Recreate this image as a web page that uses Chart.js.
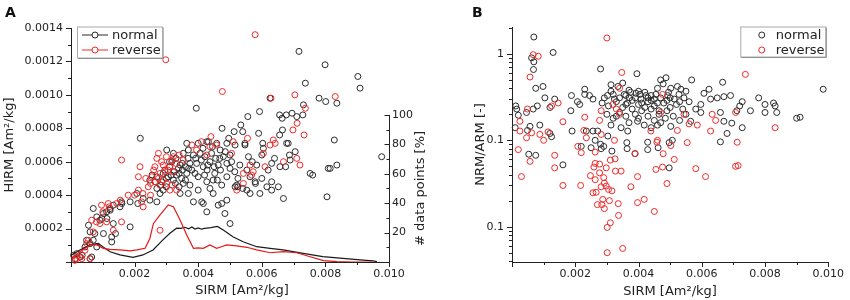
<!DOCTYPE html>
<html><head><meta charset="utf-8">
<script src="https://cdn.jsdelivr.net/npm/chart.js@4.4.0/dist/chart.umd.min.js"></script>
<style>
html,body{margin:0;padding:0;background:#fff;}
#wrap{position:relative;width:850px;height:300px;overflow:hidden;background:#fff;}
canvas{position:absolute;top:0;}
#ca{left:0;} #cb{left:440px;}
.lbl{position:absolute;font:bold 14px "DejaVu Sans";color:#111;line-height:16px;}
</style></head><body>
<div id="wrap">
<canvas id="ca" width="440" height="300"></canvas>
<canvas id="cb" width="410" height="300"></canvas>
<div class="lbl" style="left:5px;top:4px">A</div>
<div class="lbl" style="left:472px;top:4px">B</div>
</div>
<script>
// ---------- Panel A: HIRM vs SIRM ----------
const hirmNormal = [[0.00717,0.00126],[0.00799,0.00118],[0.00902,0.00111],[0.00909,0.00104],[0.00737,0.00107],[0.00626,0.00098],[0.00780,0.00098],[0.00801,0.00096],[0.00836,0.00095],[0.00731,0.00094],[0.00394,0.00092],[0.00593,0.00090],[0.00556,0.00087],[0.00656,0.00088],[0.00677,0.00088],[0.00695,0.00089],[0.00710,0.00087],[0.00729,0.00088],[0.00664,0.00086],[0.00534,0.00082],[0.00513,0.00078],[0.00540,0.00078],[0.00475,0.00080],[0.00656,0.00076],[0.00665,0.00079],[0.00218,0.00074],[0.00828,0.00073],[0.00496,0.00074],[0.00364,0.00071],[0.00400,0.00071],[0.00427,0.00072],[0.00458,0.00071],[0.00490,0.00071],[0.00547,0.00071],[0.00603,0.00071],[0.00678,0.00071],[0.00590,0.00077],
[0.00432,0.00072],[0.00516,0.00070],[0.00547,0.00070],[0.00605,0.00068],[0.00683,0.00071],
[0.00322,0.00065],[0.00301,0.00067],[0.00353,0.00065],[0.00385,0.00064],[0.00406,0.00065],[0.00421,0.00063],[0.00442,0.00065],[0.00469,0.00067],[0.00479,0.00063],[0.00500,0.00064],[0.00558,0.00063],[0.00600,0.00064],[0.00687,0.00064],[0.00977,0.00063],[0.00369,0.00067],[0.00455,0.00062],
[0.00317,0.00060],[0.00343,0.00058],[0.00374,0.00059],[0.00395,0.00059],[0.00416,0.00057],[0.00437,0.00060],[0.00463,0.00058],[0.00490,0.00059],[0.00531,0.00058],[0.00553,0.00055],[0.00584,0.00058],[0.00631,0.00059],[0.00657,0.00057],[0.00689,0.00061],[0.00620,0.00055],[0.00815,0.00056],[0.00836,0.00058],[0.00752,0.00053],[0.00675,0.00057],
[0.00248,0.00049],[0.00270,0.00051],[0.00285,0.00048],[0.00306,0.00051],[0.00322,0.00049],[0.00332,0.00052],[0.00348,0.00050],[0.00353,0.00047],[0.00364,0.00053],[0.00374,0.00046],[0.00400,0.00051],[0.00427,0.00048],[0.00447,0.00049],[0.00474,0.00046],[0.00490,0.00051],[0.00521,0.00046],[0.00525,0.00050],[0.00563,0.00051],[0.00579,0.00048],[0.00600,0.00050],[0.00631,0.00048],[0.00652,0.00045],[0.00525,0.00045],[0.00540,0.00044],[0.00437,0.00044],
[0.00295,0.00055],[0.00310,0.00057],[0.00325,0.00054],[0.00338,0.00056],[0.00350,0.00055],[0.00360,0.00057],[0.00315,0.00052],[0.00300,0.00050],[0.00290,0.00053],[0.00340,0.00053],[0.00328,0.00047],[0.00282,0.00046],[0.00265,0.00048],[0.00255,0.00052],[0.00380,0.00055],[0.00392,0.00062],[0.00410,0.00061],[0.00428,0.00055],[0.00452,0.00053],[0.00468,0.00062],[0.00485,0.00066],[0.00505,0.00060],[0.00515,0.00054],[0.00570,0.00060],[0.00640,0.00062],[0.00705,0.00066],[0.00368,0.00062],[0.00445,0.00069],[0.00415,0.00068],
[0.00310,0.00060],[0.00330,0.00062],[0.00350,0.00059],[0.00370,0.00056],[0.00390,0.00053],[0.00430,0.00058],[0.00450,0.00057],[0.00470,0.00055],[0.00500,0.00056],[0.00340,0.00045],[0.00360,0.00049],[0.00420,0.00052],[0.00460,0.00049],[0.00270,0.00044],[0.00300,0.00045],
[0.00207,0.00041],[0.00227,0.00038],[0.00248,0.00037],[0.00280,0.00041],[0.00270,0.00036],[0.00290,0.00043],[0.00343,0.00041],[0.00369,0.00041],[0.00385,0.00036],[0.00411,0.00036],[0.00400,0.00043],[0.00416,0.00035],[0.00447,0.00041],[0.00463,0.00034],[0.00474,0.00035],[0.00490,0.00037],[0.00427,0.00030],[0.00484,0.00029],[0.00500,0.00023],[0.00563,0.00041],[0.00594,0.00041],[0.00631,0.00043],[0.00668,0.00038],[0.00805,0.00039],[0.00186,0.00036],[0.00159,0.00036],[0.00154,0.00033],[0.00133,0.00034],[0.00123,0.00031],[0.00102,0.00029],[0.00081,0.00027],[0.00070,0.00032],[0.00091,0.00025],[0.00186,0.00021],[0.00133,0.00023],[0.00128,0.00015],[0.00055,0.00022],[0.00060,0.00018],[0.00075,0.00017],[0.00102,0.00017],[0.00049,0.00013],[0.00070,0.00013],[0.00060,0.00011],[0.00044,0.00009],[0.00081,0.00009],[0.00018,0.00005],[0.00008,0.00004],[0.00028,0.00003],[0.00065,0.00003],[0.00013,0.00002],[0.00760,0.00052],[0.00809,0.00056],
[0.00097,0.00026],[0.00112,0.00030],[0.00123,0.00032],[0.00113,0.00026],[0.00140,0.00017],[0.00160,0.00035],[0.00210,0.00035],[0.00128,0.00012],[0.00060,0.00002],[0.00035,0.00004],[0.00580,0.00047],[0.00553,0.00043],[0.00516,0.00045],[0.00616,0.00045]];

const hirmReverse = [[0.00579,0.00136],[0.00298,0.00121],[0.00476,0.00102],[0.00629,0.00098],[0.00704,0.00100],[0.00831,0.00099],[0.00737,0.00092],[0.00711,0.00083],[0.00698,0.00079],[0.00733,0.00076],[0.00440,0.00075],[0.00555,0.00074],[0.00636,0.00073],[0.00510,0.00072],
[0.00458,0.00070],[0.00626,0.00070],[0.00642,0.00071],[0.00605,0.00065],[0.00437,0.00069],[0.00275,0.00065],[0.00159,0.00061],[0.00353,0.00061],[0.00427,0.00064],[0.00505,0.00065],[0.00668,0.00060],[0.00710,0.00062],[0.00720,0.00058],[0.00217,0.00057],[0.00264,0.00057],[0.00290,0.00058],[0.00311,0.00057],[0.00296,0.00054],[0.00280,0.00053],[0.00322,0.00054],[0.00563,0.00058],[0.00573,0.00054],[0.00542,0.00053],[0.00610,0.00057],[0.00212,0.00051],[0.00243,0.00045],[0.00264,0.00048],[0.00280,0.00046],[0.00254,0.00051],[0.00301,0.00047],[0.00311,0.00043],[0.00332,0.00043],[0.00212,0.00043],[0.00521,0.00043],[0.00542,0.00047],[0.00144,0.00035],[0.00117,0.00035],[0.00096,0.00034],[0.00222,0.00036],[0.00159,0.00024],[0.00133,0.00019],[0.00112,0.00024],[0.00091,0.00023],[0.00065,0.00025],[0.00049,0.00011],[0.00280,0.00019],[0.00044,0.00007],[0.00018,0.00002],[0.00034,0.00002],[0.00060,0.00002],
[0.00270,0.00062],[0.00285,0.00060],[0.00300,0.00063],[0.00318,0.00061],[0.00330,0.00059],[0.00260,0.00055],[0.00275,0.00050],[0.00290,0.00049],[0.00305,0.00055],[0.00250,0.00047],[0.00235,0.00050],[0.00318,0.00046],[0.00340,0.00064],[0.00380,0.00070],[0.00410,0.00072],[0.00395,0.00067],[0.00226,0.00041],[0.00200,0.00040],[0.00250,0.00040],[0.00180,0.00040],[0.00155,0.00037],[0.00120,0.00033],[0.00100,0.00030],[0.00080,0.00024],[0.00070,0.00018],[0.00055,0.00013],[0.00030,0.00003],[0.00012,0.00001],[0.00227,0.00033],[0.00568,0.00052],[0.00322,0.00063]];

// distribution curves (# data points [%])
const curveSirmNormal = [0.00002,0.00028,0.0006,0.00086,0.001,0.00123,0.00154,0.00195,0.00226,0.00258,0.00289,0.00311,0.00332,0.00345,0.00358,0.0037,0.0038,0.0039,0.0040,0.0041,0.0042,0.0044,0.0046,0.0048,0.00509,0.00541,0.00584,0.00626,0.00667,0.0073,0.00792,0.00855,0.00909,0.0095,0.00962];
const curvePctNormal = [4.8,8.2,11.6,12.7,10.4,7,4.8,3.2,4.8,8.2,15,19.5,23,22.8,23.6,22.5,23.8,22.4,23.2,22.3,22.8,23.4,24.2,21.5,17.2,13.8,10.4,9.3,8.2,5.9,3.6,2.5,1.4,0.7,0.3];
const curveSirmReverse = [0.00002,0.00028,0.0006,0.00081,0.00102,0.00123,0.00154,0.00186,0.00207,0.00233,0.00248,0.00259,0.0028,0.00306,0.00322,0.00343,0.00364,0.00385,0.004,0.00416,0.00437,0.00458,0.00475,0.0049,0.00521,0.00553,0.00584,0.00626,0.00668,0.0071,0.00752,0.00794,0.00836,0.00887,0.0095];
const curvePctReverse = [2.5,7,11.6,11.6,9.3,8.6,8.2,7.5,8.2,9.3,16,26,32,38.8,37.6,28.6,18.4,9.3,9.6,9.3,11.6,9.3,10.5,11.6,10.9,10,8.2,6.3,7,6.3,3.6,0.9,0.2,0,0];

// ---------- Panel B: NRM/ARM vs SIRM ----------
const ratioNormal = [[0.00069,1.57],[0.0013,1.04],[0.00062,0.90],[0.00069,0.81],[0.00068,0.66],[0.00075,0.40],[0.00098,0.42],[0.0028,0.67],[0.00395,0.59],[0.00487,0.53],[0.0047,0.50],[0.00568,0.50],[0.00666,0.47],[0.00984,0.39],[0.00523,0.42],[0.00502,0.40],[0.00534,0.39],[0.00313,0.44],[0.00313,0.37],[0.0035,0.46],[0.0023,0.39],[0.00188,0.33],[0.0023,0.34],[0.00245,0.33],[0.00012,0.25],[0.00015,0.23],[0.0002,0.195],[0.00046,0.21],[0.00067,0.23],[0.0008,0.25],[0.00104,0.31],[0.00135,0.30],[0.0012,0.24],[0.00186,0.22],[0.00207,0.28],[0.00214,0.26],[0.00256,0.30],[0.00292,0.31],[0.00628,0.30],[0.00649,0.31],[0.0067,0.32],[0.00691,0.33],[0.00607,0.35],[0.00623,0.39],[0.00597,0.26],[0.00581,0.23],[0.00597,0.21],[0.00659,0.21],[0.0067,0.166],[0.0072,0.25],[0.00728,0.28],[0.00754,0.22],[0.0078,0.31],[0.008,0.26],[0.00827,0.27],[0.00832,0.25],[0.00837,0.21],[0.008,0.21],[0.00728,0.14],[0.0068,0.12],[0.00711,0.22],[0.009,0.18],[0.00911,0.185],[0.00695,0.158],[0.00659,0.096],
[0.00335,0.42],[0.00375,0.36],[0.00405,0.34],[0.0044,0.33],[0.0046,0.40],[0.00478,0.45],[0.00495,0.36],[0.0055,0.37],
[0.00302,0.33],[0.00324,0.30],[0.00355,0.34],[0.00371,0.31],[0.00392,0.35],[0.00408,0.30],[0.00424,0.33],[0.0044,0.29],[0.00455,0.34],[0.0047,0.31],[0.00492,0.33],[0.00513,0.30],[0.00528,0.34],[0.00544,0.31],[0.0056,0.28],
[0.00285,0.27],[0.00305,0.25],[0.0033,0.28],[0.0035,0.24],[0.00365,0.27],[0.0038,0.23],[0.004,0.26],[0.0042,0.24],[0.0043,0.28],[0.0045,0.25],[0.00465,0.22],[0.0048,0.27],[0.005,0.24],[0.0052,0.26],[0.0054,0.23],[0.0038,0.29],[0.0041,0.22],
[0.0036,0.33],[0.0037,0.38],[0.0039,0.31],[0.0040,0.37],[0.0042,0.36],[0.0043,0.31],[0.0045,0.30],[0.0046,0.27],[0.0049,0.29],[0.0050,0.31],[0.0053,0.28],[0.0036,0.26],[0.0034,0.31],[0.0032,0.34],[0.0041,0.27],[0.0044,0.23],[0.0049,0.22],[0.0033,0.19],[0.0040,0.18],[0.0046,0.15],
[0.003,0.2],[0.0032,0.18],[0.0034,0.21],[0.0036,0.19],[0.0037,0.16],[0.0039,0.2],[0.00397,0.166],[0.00418,0.15],[0.0043,0.19],[0.0045,0.17],[0.00465,0.2],[0.00485,0.18],[0.00502,0.145],[0.0051,0.19],[0.0053,0.17],[0.00565,0.166],[0.0055,0.2],[0.0044,0.14],[0.0047,0.16],
[0.0001,0.14],[0.0012,0.12],[0.00125,0.11],[0.00256,0.128],[0.00271,0.128],[0.00313,0.15],[0.00345,0.14],[0.00366,0.128],[0.00303,0.112],[0.00507,0.1],[0.00363,0.094],[0.00429,0.095],[0.00057,0.145],[0.00088,0.15],[0.00049,0.13],[0.0019,0.128],[0.00235,0.128],[0.0028,0.09],
[0.00053,0.069],[0.00075,0.067],[0.00161,0.052],[0.00219,0.085],[0.0025,0.082],[0.00263,0.1],[0.00282,0.08],[0.0029,0.085],[0.00316,0.075],[0.00364,0.08],[0.00389,0.07],[0.00429,0.078],[0.00462,0.082],[0.00497,0.048],[0.00497,0.094]];

const ratioReverse = [[0.003,1.53],[0.00067,0.98],[0.00083,0.94],[0.00057,0.54],[0.00347,0.61],[0.00738,0.58],[0.0034,0.40],[0.00049,0.23],[0.00125,0.25],[0.00146,0.27],[0.00161,0.164],[0.0023,0.185],[0.00282,0.22],[0.00319,0.26],[0.0033,0.23],[0.00277,0.17],[0.0034,0.2],[0.0047,0.21],[0.00476,0.34],[0.00544,0.2],[0.00586,0.15],[0.00633,0.2],[0.00644,0.17],[0.00707,0.21],[0.00832,0.14],[0.00523,0.13],[0.0056,0.155],[0.00628,0.128],[0.00439,0.128],[0.00025,0.166],[0.00025,0.128],[0.00062,0.122],[0.00088,0.117],[0.00114,0.125],[0.00046,0.107],[0.001,0.1],[0.00227,0.13],[0.00235,0.107],[0.00324,0.1],[0.00282,0.117],[0.0046,0.1],
[0.0002,0.078],[0.00057,0.057],[0.0003,0.038],[0.00135,0.067],[0.00135,0.048],[0.00161,0.030],[0.00208,0.085],[0.00219,0.072],[0.00217,0.030],[0.00263,0.073],[0.00263,0.054],[0.00259,0.049],[0.00277,0.053],[0.00248,0.039],[0.00263,0.035],[0.00277,0.042],[0.00298,0.048],[0.00311,0.059],[0.00326,0.061],[0.00327,0.044],[0.00345,0.044],[0.0029,0.037],[0.00292,0.032],[0.00298,0.0295],[0.00305,0.027],[0.00316,0.026],[0.00256,0.0247],[0.00266,0.025],[0.00282,0.029],[0.00287,0.0207],[0.0027,0.018],[0.00284,0.018],[0.00308,0.020],[0.00292,0.0162],[0.00336,0.0185],[0.00337,0.0135],[0.00311,0.0111],[0.00301,0.0098],[0.0035,0.0056],[0.00301,0.005],[0.00376,0.029],[0.00397,0.038],[0.00397,0.019],[0.00418,0.0207],[0.0045,0.015],[0.00455,0.046],[0.00476,0.049],[0.00478,0.07],[0.0049,0.0316],[0.00513,0.06],[0.00581,0.047],[0.00612,0.038],[0.00707,0.05],[0.00715,0.051],[0.00502,0.087],[0.00554,0.094],[0.00712,0.095],[0.00458,0.095],[0.00389,0.07]];

// ---------- ticks ----------
const sirmTicks = [0.002,0.004,0.006,0.008,0.010];
const sirmTickLabels = ['0.002','0.004','0.006','0.008','0.010'];
const sirmMajor = [0,0.002,0.004,0.006,0.008,0.010];
const sirmMinor = [0.001,0.003,0.005,0.007,0.009];
const hirmTicks = [0.0002,0.0004,0.0006,0.0008,0.0010,0.0012,0.0014];
const hirmTickLabels = ['0.0002','0.0004','0.0006','0.0008','0.0010','0.0012','0.0014'];
const hirmMajor = [0,0.0002,0.0004,0.0006,0.0008,0.0010,0.0012,0.0014];
const hirmMinor = [0.0001,0.0003,0.0005,0.0007,0.0009,0.0011,0.0013];
const pctTicks = [20,40,60,80,100];
const pctTickLabels = ['20','40','60','80','100'];
const pctMajor = [0,20,40,60,80,100];
const pctMinor = [10,30,50,70,90];
const ratioTicks = [0.01,0.1,1];
const ratioTickLabels = ['0.1','0.1','1'];
const ratioMinor = [0.004,0.005,0.006,0.007,0.008,0.009,0.02,0.03,0.04,0.05,0.06,0.07,0.08,0.09,0.2,0.3,0.4,0.5,0.6,0.7,0.8,0.9,2];
const seriesNames = ['normal','reverse'];

const FONT = '"DejaVu Sans", Verdana, sans-serif';
const INK = '#222';
const BLACK = '#2a2a2a';
const RED = '#f02828';
const toXY = arr => arr.map(p => ({x:p[0], y:p[1]}));
const zip = (xs, ys) => xs.map((x,i) => ({x, y:ys[i]}));
const setTicks = vals => (scale => { scale.ticks = vals.map(v => ({value:v})); });
const labelFor = (vals, labels) => (v => { const i = vals.indexOf(v); return i < 0 ? '' : labels[i]; });

function tickMarks(id, marks, extra){
  return { id, afterDraw(chart){
    const ctx = chart.ctx, ca = chart.chartArea;
    ctx.save(); ctx.strokeStyle = INK; ctx.lineWidth = 1;
    marks.forEach(m => {
      const s = chart.scales[m.axis];
      m.values.forEach(v => {
        const p = Math.round(s.getPixelForValue(v)) + 0.5;
        ctx.beginPath();
        if (m.side === 'bottom') { const y = Math.round(ca.bottom); ctx.moveTo(p, y); ctx.lineTo(p, y + m.len); }
        else if (m.side === 'left') { const x = Math.round(ca.left); ctx.moveTo(x, p); ctx.lineTo(x - m.len, p); }
        else { const x = Math.round(s.left) + 0.5; ctx.moveTo(x, p); ctx.lineTo(x - m.len, p); }
        ctx.stroke();
      });
    });
    ctx.restore();
    if (extra) extra(chart);
  }};
}

function drawLegend(ctx, x, y, w, h, withLine){
  ctx.save();
  ctx.fillStyle = '#fff'; ctx.fillRect(x, y, w, h);
  ctx.strokeStyle = '#777'; ctx.lineWidth = 1;
  ctx.beginPath(); ctx.moveTo(x + w + 1, y + 1); ctx.lineTo(x + w + 1, y + h + 1); ctx.lineTo(x + 1, y + h + 1); ctx.stroke();
  ctx.strokeStyle = '#aaa'; ctx.strokeRect(x + 0.5, y + 0.5, w, h);
  const cols = [BLACK, RED];
  ctx.font = '13px ' + FONT; ctx.textBaseline = 'middle'; ctx.textAlign = 'left';
  seriesNames.forEach((n, i) => {
    const cy = y + 8.5 + i * 15;
    ctx.strokeStyle = cols[i]; ctx.lineWidth = 1;
    const cx = withLine ? x + 18 : x + 21.5;
    if (withLine) { ctx.beginPath(); ctx.moveTo(x + 5, cy); ctx.lineTo(x + 31, cy); ctx.stroke(); }
    ctx.fillStyle = '#fff'; ctx.beginPath(); ctx.arc(cx, cy, 3, 0, Math.PI * 2); ctx.fill(); ctx.stroke();
    ctx.fillStyle = INK; ctx.fillText(n, withLine ? x + 35 : x + 35.5, cy + 0.5);
  });
  ctx.restore();
}

const tickFont = {family: FONT, size: 11};
const titleFont = {family: FONT, size: 13};
const scatterStyle = (data, col) => ({data, borderColor: col, backgroundColor: 'rgba(0,0,0,0)', pointRadius: 3, pointBorderWidth: 1, pointHoverRadius: 3, showLine: false, clip: false});

// ---------- Chart A ----------
new Chart(document.getElementById('ca'), {
  type: 'scatter',
  data: { datasets: [
    {data: zip(curveSirmReverse, curvePctReverse), yAxisID: 'y2', showLine: true, pointRadius: 0, borderColor: '#e81818', borderWidth: 1.2, tension: 0},
    {data: zip(curveSirmNormal, curvePctNormal), yAxisID: 'y2', showLine: true, pointRadius: 0, borderColor: '#1a1a1a', borderWidth: 1.2, tension: 0},
    Object.assign(scatterStyle(toXY(hirmReverse), RED), {yAxisID: 'y'}),
    Object.assign(scatterStyle(toXY(hirmNormal), BLACK), {yAxisID: 'y'})
  ]},
  options: {
    responsive: false, animation: false, devicePixelRatio: 1,
    layout: {padding: {left: 0, top: 28, right: 0, bottom: 0}},
    plugins: {legend: {display: false}, tooltip: {enabled: false}},
    scales: {
      x: {type: 'linear', min: 0, max: 0.010, afterBuildTicks: setTicks(sirmTicks), afterFit: s => { s.height = 38; },
          grid: {display: false, drawTicks: false}, border: {display: true, color: INK, width: 1},
          ticks: {font: tickFont, color: INK, padding: 6, autoSkip: false, maxRotation: 0, callback: labelFor(sirmTicks, sirmTickLabels)},
          title: {display: false}},
      y: {type: 'linear', position: 'left', min: 0, max: 0.0014, afterBuildTicks: setTicks(hirmTicks), afterFit: s => { s.width = 71; },
          grid: {display: false, drawTicks: false}, border: {display: true, color: INK, width: 1},
          ticks: {font: tickFont, color: INK, padding: 8, autoSkip: false, callback: labelFor(hirmTicks, hirmTickLabels)},
          title: {display: true, text: 'HIRM [Am²/kg]', font: titleFont, color: INK, padding: {top: 2, bottom: 0}}},
      y2: {type: 'linear', position: 'right', min: 0, max: 159, afterBuildTicks: setTicks(pctTicks), afterFit: s => { s.width = 51; },
          grid: {display: false, drawTicks: false}, border: {display: false},
          ticks: {font: tickFont, color: INK, padding: 3, autoSkip: false, callback: labelFor(pctTicks, pctTickLabels)}}
    }
  },
  plugins: [tickMarks('ticksA', [
    {axis: 'x', side: 'bottom', values: sirmMajor, len: 5},
    {axis: 'x', side: 'bottom', values: sirmMinor, len: 3},
    {axis: 'y', side: 'left', values: hirmMajor, len: 5},
    {axis: 'y', side: 'left', values: hirmMinor, len: 3},
    {axis: 'y2', side: 'right', values: pctMajor, len: 5},
    {axis: 'y2', side: 'right', values: pctMinor, len: 3}
  ], chart => {
    const ctx = chart.ctx, s = chart.scales.y2, ca = chart.chartArea;
    const x = Math.round(s.left) + 0.5, y0 = s.getPixelForValue(0), y1 = s.getPixelForValue(100);
    ctx.save();
    ctx.strokeStyle = INK; ctx.lineWidth = 1;
    ctx.beginPath(); ctx.moveTo(x, y0); ctx.lineTo(x, y1); ctx.stroke();
    ctx.fillStyle = INK; ctx.font = '13px ' + FONT; ctx.textAlign = 'center'; ctx.textBaseline = 'middle';
    ctx.save(); ctx.translate(421, (y0 + y1) / 2); ctx.rotate(-Math.PI / 2); ctx.fillText('# data points [%]', 0, 0); ctx.restore();
    ctx.fillText('SIRM [Am²/kg]', (ca.left + ca.right) / 2 + 12, 291);
    ctx.restore();
    drawLegend(ctx, ca.left + 6, ca.top - 1.5, 85, 31, true);
  })]
});

// ---------- Chart B ----------
new Chart(document.getElementById('cb'), {
  type: 'scatter',
  data: { datasets: [
    scatterStyle(toXY(ratioReverse), RED),
    scatterStyle(toXY(ratioNormal), BLACK)
  ]},
  options: {
    responsive: false, animation: false, devicePixelRatio: 1,
    layout: {padding: {left: 0, top: 27, right: 20, bottom: 0}},
    plugins: {legend: {display: false}, tooltip: {enabled: false}},
    scales: {
      x: {type: 'linear', min: 0, max: 0.010, afterBuildTicks: setTicks(sirmTicks), afterFit: s => { s.height = 38; },
          grid: {display: false, drawTicks: false}, border: {display: true, color: INK, width: 1},
          ticks: {font: tickFont, color: INK, padding: 6, autoSkip: false, maxRotation: 0, callback: labelFor(sirmTicks, sirmTickLabels)},
          title: {display: true, text: 'SIRM [Am²/kg]', font: titleFont, color: INK, padding: {top: 0, bottom: 1}}},
      y: {type: 'logarithmic', position: 'left', min: 0.0039, max: 2.05, afterBuildTicks: setTicks(ratioTicks), afterFit: s => { s.width = 72; },
          grid: {display: false, drawTicks: false}, border: {display: true, color: INK, width: 1},
          ticks: {font: tickFont, color: INK, padding: 8, autoSkip: false, callback: labelFor(ratioTicks, ratioTickLabels)},
          title: {display: true, text: 'NRM/ARM [-]', font: titleFont, color: INK, padding: {top: 33, bottom: 0}}}
    }
  },
  plugins: [tickMarks('ticksB', [
    {axis: 'x', side: 'bottom', values: sirmMajor, len: 5},
    {axis: 'x', side: 'bottom', values: sirmMinor, len: 3},
    {axis: 'y', side: 'left', values: ratioTicks, len: 5},
    {axis: 'y', side: 'left', values: ratioMinor, len: 3}
  ], chart => {
    const ca = chart.chartArea;
    drawLegend(chart.ctx, ca.right - 88, ca.top - 0.5, 85, 30, false);
  })]
});
</script>
</body></html>
